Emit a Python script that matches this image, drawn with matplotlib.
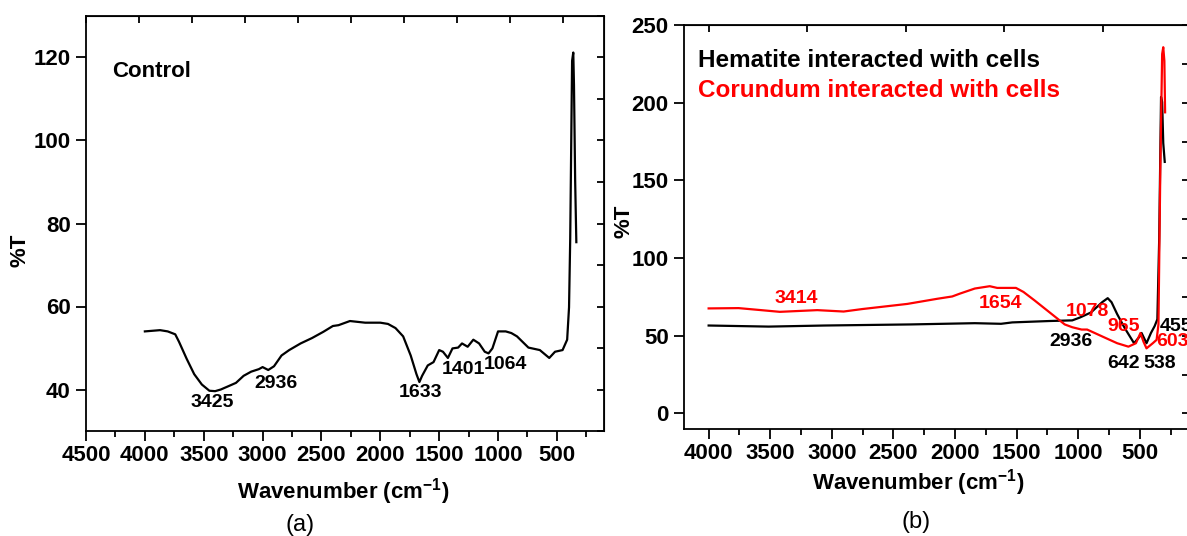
import numpy as np
import matplotlib
matplotlib.use('Agg')
import matplotlib.pyplot as plt
from matplotlib.ticker import MultipleLocator

plt.rcParams['font.family'] = ['Liberation Sans', 'DejaVu Sans']
plt.rcParams['font.weight'] = 'bold'
plt.rcParams['mathtext.default'] = 'regular'

# (a) control spectrum
control_x = [4000, 3871, 3806, 3742, 3710, 3645, 3581, 3516, 3452, 3403, 3355, 3290, 3226, 3161,
             3097, 3032, 3000, 2952, 2903, 2839, 2774, 2677, 2580, 2484, 2403, 2355, 2258, 2129,
             2000, 1935, 1871, 1806, 1742, 1693, 1668, 1645, 1597, 1548, 1500, 1468, 1426, 1387,
             1339, 1306, 1258, 1210, 1161, 1113, 1081, 1048, 1000, 935, 887, 839, 742, 645, 565,
             516, 452, 413, 397, 387, 371, 361, 355, 345, 335]
control_y = [54.0, 54.3, 54.0, 53.3, 51.5, 47.4, 43.7, 41.2, 39.7, 39.6, 40.0, 40.8, 41.6, 43.3,
             44.3, 44.9, 45.4, 44.7, 45.6, 48.2, 49.5, 51.1, 52.4, 53.9, 55.3, 55.5, 56.5, 56.1,
             56.1, 55.8, 54.8, 52.8, 48.2, 43.7, 41.8, 43.3, 45.8, 46.6, 49.5, 49.1, 47.6, 49.9,
             50.1, 51.1, 50.3, 52.0, 51.1, 49.1, 48.7, 49.9, 54.0, 54.0, 53.6, 52.8, 50.1, 49.5, 47.6,
             49.1, 49.5, 52.0, 59.8, 76.3, 119.2, 121.2, 113.4, 90.3, 75.5]
control_peaks = ['3425', '2936', '1633', '1401', '1064']
control_peak_x = [3425, 2887, 1656, 1291, 935]
control_peak_y = [36.9, 41.4, 39.3, 44.8, 46.0]

# (b) hematite / corundum
hem_x = [4000, 3513, 3057, 2357, 1839, 1626, 1535, 1231, 1048, 987, 896, 805, 760, 729, 683, 623,
         546, 500, 485, 445, 409, 379, 357, 342, 327, 318, 309, 297]
hem_y = [56.6, 55.9, 56.6, 57.3, 58.1, 57.7, 58.6, 59.5, 59.9, 61.7, 65.0, 71.6, 74.2, 71.6, 63.9,
         55.1, 45.2, 49.6, 51.8, 45.2, 51.8, 56.2, 60.6, 112.3, 203.7, 200.4, 174.0, 161.9]
cor_x = [4000, 3757, 3574, 3422, 3118, 2904, 2752, 2387, 2144, 2022, 1961, 1839, 1718, 1657, 1505,
         1444, 1353, 1231, 1109, 1048, 972, 927, 775, 683, 592, 531, 494, 470, 445, 394, 363, 348,
         333, 318, 309, 300, 294]
cor_y = [67.6, 67.8, 66.5, 65.4, 66.5, 65.6, 67.2, 70.5, 73.8, 75.3, 77.1, 80.4, 81.9, 80.8, 80.8,
         78.2, 72.7, 65.0, 57.3, 55.5, 54.0, 54.0, 48.5, 45.2, 43.0, 45.2, 51.8, 46.3, 41.9, 45.2,
         47.4, 57.3, 156.4, 231.3, 235.7, 226.9, 193.8]
cor_peaks = ['3414', '1654', '1078', '965', '603']
cor_peak_x = [3287, 1634, 921, 629, 362]
cor_peak_y = [74, 70.7, 65.5, 56, 46]
hem_peaks = ['2936', '642', '538', '455']
hem_peak_x = [1058, 629, 337, 337]
hem_peak_y = [46, 32, 32, 56]

W, H = 1187, 536
fig = plt.figure(figsize=(W / 100, H / 100), dpi=100)


def px_axes(l, t, r, b):
    return fig.add_axes([l / W, (H - b) / H, (r - l) / W, (b - t) / H])


def style(ax):
    for s in ax.spines.values():
        s.set_linewidth(1.3)
    ax.tick_params(axis='both', which='both', width=1.3, labelsize=16)
    ax.tick_params(axis='x', which='major', direction='out', length=7, pad=3, top=False)
    ax.tick_params(axis='x', which='minor', direction='out', length=4, top=False)
    ax.tick_params(axis='y', which='major', direction='out', length=7, pad=4)
    ax.tick_params(axis='y', which='minor', direction='out', length=0)
    ax.tick_params(axis='y', which='both', right=False)
    for lab in ax.get_xticklabels() + ax.get_yticklabels():
        lab.set_fontweight('bold')


ax1 = px_axes(86, 16, 604, 431)
ax1.plot(control_x, control_y, color='black', lw=1.6)
ax1.set_xlim(4500, 100)
ax1.set_ylim(30, 130)
ax1.xaxis.set_major_locator(MultipleLocator(500))
ax1.xaxis.set_minor_locator(MultipleLocator(250))
ax1.set_yticks([40, 60, 80, 100, 120])
style(ax1)
# inward ticks on right/top
ax1r = ax1.secondary_yaxis('right')
ax1r.yaxis.set_major_locator(MultipleLocator(10))
ax1r.tick_params(direction='in', length=5, width=1.3, labelright=False)
ax1t = ax1.secondary_xaxis('top')
ax1t.xaxis.set_major_locator(MultipleLocator(450))
ax1t.tick_params(direction='in', length=5, width=1.3, labeltop=False)
ax1.text(4279, 116.6, 'Control', fontsize=16, fontweight='bold', va='center', ha='left')
for lab, x, y in zip(control_peaks, control_peak_x, control_peak_y):
    ax1.text(x, y, lab, fontsize=14, fontweight='bold', ha='center', va='center')

ax2 = px_axes(684, 25, 1189, 429)
ax2.plot(hem_x, hem_y, color='black', lw=1.6)
ax2.plot(cor_x, cor_y, color='#ff0000', lw=1.6)
ax2.set_xlim(4200, 100)
ax2.set_ylim(-10, 250)
ax2.xaxis.set_minor_locator(MultipleLocator(250))
ax2.set_xticks([4000, 3500, 3000, 2500, 2000, 1500, 1000, 500])
ax2.set_yticks([0, 50, 100, 150, 200, 250])
style(ax2)
ax2r = ax2.secondary_yaxis('right')
ax2r.yaxis.set_major_locator(MultipleLocator(25))
ax2r.tick_params(direction='in', length=5, width=1.3, labelright=False)
ax2t = ax2.secondary_xaxis('top')
ax2t.xaxis.set_major_locator(MultipleLocator(800))
ax2t.tick_params(direction='in', length=5, width=1.3, labeltop=False)
ax2.text(0.028, 0.911, 'Hematite interacted with cells', transform=ax2.transAxes,
         fontsize=17.5, fontweight='bold', color='black', va='center', ha='left')
ax2.text(0.028, 0.837, 'Corundum interacted with cells', transform=ax2.transAxes,
         fontsize=17.5, fontweight='bold', color='#ff0000', va='center', ha='left')
for lab, x, y in zip(cor_peaks, cor_peak_x, cor_peak_y):
    ha = 'left' if lab == '603' else 'center'
    ax2.text(x, y, lab, fontsize=14, fontweight='bold', color='#ff0000', ha=ha, va='center')
for lab, x, y in zip(hem_peaks, hem_peak_x, hem_peak_y):
    ha = 'left' if lab == '455' else 'center'
    ax2.text(x, y, lab, fontsize=14, fontweight='bold', color='black', ha=ha, va='center')

# labels
fig.text(20 / W, 1 - 250 / H, '%T', rotation=90, fontsize=16, fontweight='bold', ha='center', va='center')
fig.text(624 / W, 1 - 221 / H, '%T', rotation=90, fontsize=16, fontweight='bold', ha='center', va='center')
fig.text(343 / W, 1 - 492 / H, r'Wavenumber (cm$^{-1}$)', fontsize=16, fontweight='bold', ha='center', va='center')
fig.text(918 / W, 1 - 483 / H, r'Wavenumber (cm$^{-1}$)', fontsize=16, fontweight='bold', ha='center', va='center')
fig.text(300 / W, 1 - 525 / H, '(a)', fontsize=17, ha='center', va='center', fontweight='normal')
fig.text(916 / W, 1 - 522 / H, '(b)', fontsize=17, ha='center', va='center', fontweight='normal')

fig.savefig('out.png', dpi=100)
